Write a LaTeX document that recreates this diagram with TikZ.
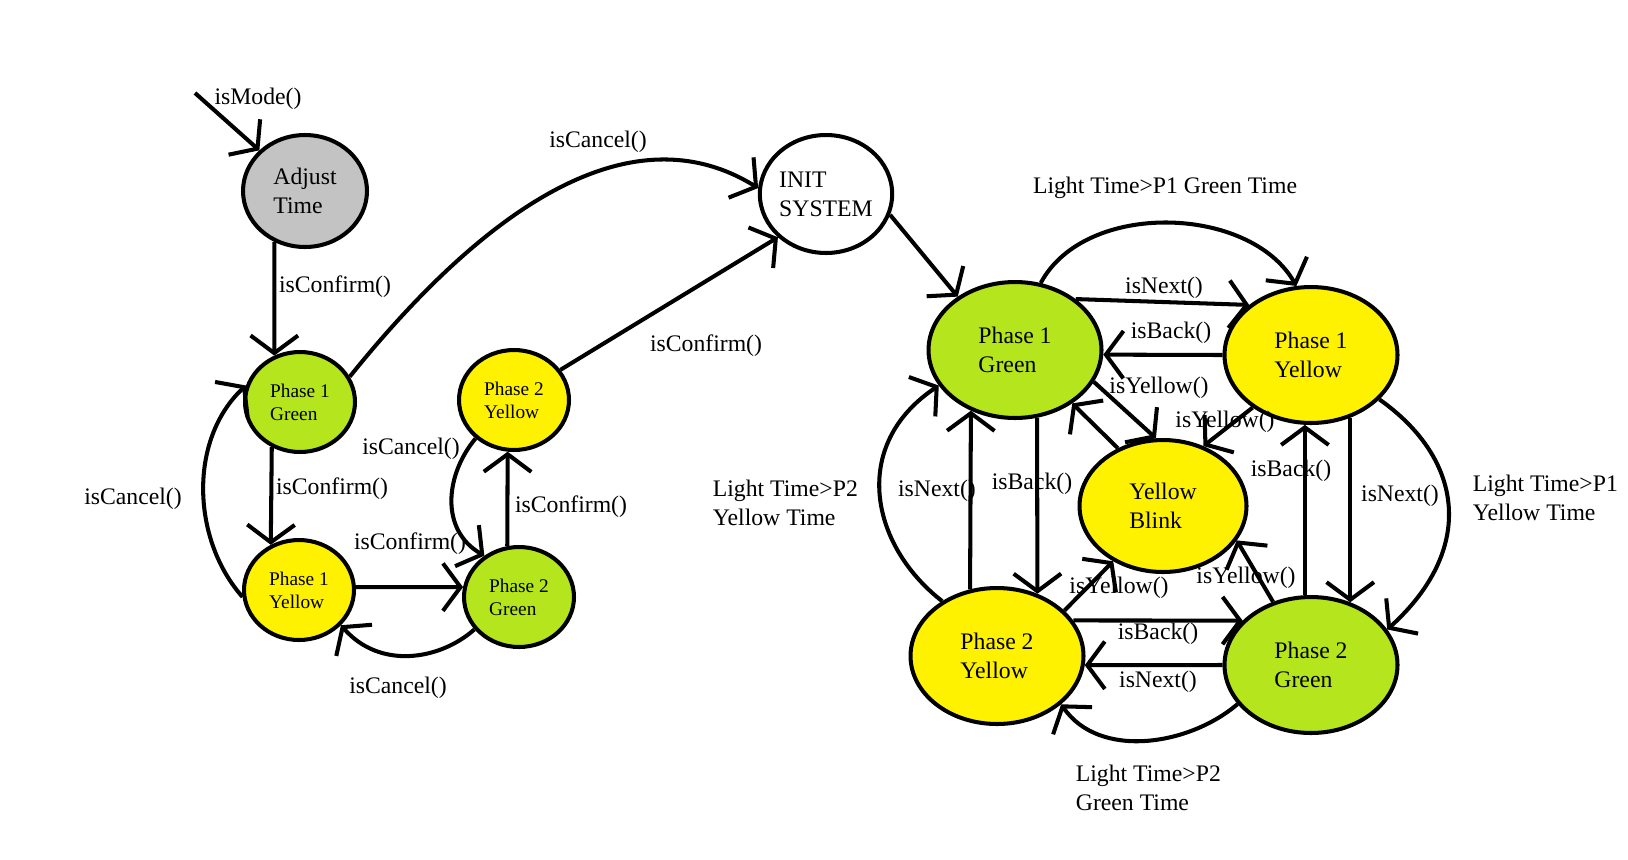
\documentclass[tikz,border=0pt]{standalone}
\usepackage{fontspec}
\setmainfont{Liberation Serif}
\usetikzlibrary{shapes.geometric,arrows.meta}
\definecolor{paintgreen}{RGB}{181,230,29}
\definecolor{paintyellow}{RGB}{255,242,0}
\definecolor{paintgray}{RGB}{195,195,195}

\begin{document}
\begin{tikzpicture}[x=0.02cm,y=-0.02cm,line width=2.3pt,
    >={Straight Barb[length=10pt,width=27pt]},
    every node/.style={font=\fontsize{13.5}{16.5}\selectfont,align=left},
    state/.style={draw,ellipse,inner sep=0pt},
    small/.style={state,minimum width=2.2cm,minimum height=2cm,font=\fontsize{11}{13}\selectfont},
    big/.style={state,minimum width=3.46cm,minimum height=2.72cm},
    grn/.style={fill=paintgreen},
    ylw/.style={fill=paintyellow}]
      \useasboundingbox (0,0) rectangle (1628,859);

      \node[state,fill=paintgray,minimum width=2.48cm,minimum height=2.24cm] (adj) at (305,191) {Adjust\\Time};
      \node[state,minimum width=2.64cm,minimum height=2.36cm] (init) at (826,194) {INIT\\SYSTEM};
      \node[small,grn] (aP1G) at (300,402) {Phase 1\\Green};
      \node[small,ylw] (aP1Y) at (299,590) {Phase 1\\Yellow};
      \node[small,ylw] (aP2Y) at (514,400) {Phase 2\\Yellow};
      \node[small,grn] (aP2G) at (519,597) {Phase 2\\Green};

      \node[big,grn] (P1G) at (1015,350) {Phase 1\\Green};
      \node[big,ylw] (P1Y) at (1311,355) {Phase 1\\Yellow};
      \node[state,ylw,minimum width=3.34cm,minimum height=2.64cm] (blink) at (1163,506) {Yellow\\Blink};
      \node[big,ylw] (P2Y) at (997,656) {Phase 2\\Yellow};
      \node[big,grn] (P2G) at (1311,665) {Phase 2\\Green};

      \coordinate (modein) at (195,93);
      \draw[->] (modein) -- (adj);
      \draw[->] (adj.-121) -- (aP1G.119);
      \draw[->] (aP1G.27) .. controls (500,190) and (640,115) .. (init.175);
      \draw[->] (aP1G.-122) -- (aP1Y.122);
      \draw[->] (aP1Y.187) .. controls (192,540) and (188,440) .. (aP1G.163);
      \draw[->] (aP1Y.3) -- (aP2G.170);
      \draw[->] (aP2G.216) .. controls (440,660) and (380,670) .. (aP1Y.-40);
      \draw[->] (aP2G.103) -- (aP2Y.-97);
      \draw[->] (aP2Y.225) .. controls (445,475) and (440,530) .. (aP2G.130);
      \draw[->] (aP2Y.33) -- (init.222);
      \draw[->] (init.-18) -- (P1G.137);

      \draw[->] (P1G.40) -- (P1Y.141);
      \draw[->] (P1Y.180) -- (P1G.-3);
      \draw[->] (P1G.69) .. controls (1085,200) and (1250,205) .. (P1Y.102);
      \draw[->] (P1Y.-33) .. controls (1465,460) and (1475,550) .. (P2G.25);
      \draw[->] (P1Y.-58) -- (P2G.58);
      \draw[->] (P2G.95) -- (P1Y.-95);
      \draw[->] (P2Y.25) -- (P2G.147);
      \draw[->] (P2G.180) -- (P2Y.-6);
      \draw[->] (P2Y.112) -- (P1G.-126);
      \draw[->] (P1G.-72) -- (P2Y.57);
      \draw[->] (P2Y.135) .. controls (870,545) and (850,445) .. (P1G.205);
      \draw[->] (P2G.208) .. controls (1190,745) and (1100,760) .. (P2Y.-37);
      \draw[->] (P1G.-22) -- (blink.96);
      \draw[->] (blink.128) -- (P1G.-43);
      \draw[->] (P1Y.222) -- (blink.56);
      \draw[->] (P2G.121) -- (blink.-25);
      \draw[->] (P2Y.34) -- (blink.228);

      \foreach \x/\y/\t [count=\i] in {258/99/isMode(), 335/287/isConfirm(), 598/142/isCancel(),
          706/346/isConfirm(), 411/449/isCancel(), 133/499/isCancel(), 332/489/isConfirm(),
          571/507/isConfirm(), 410/544/isConfirm(), 398/688/isCancel(),
          1165/188/Light Time>P1 Green Time, 1164/288/isNext(), 1171/333/isBack(),
          1159/388/isYellow(), 1225/422/isYellow(), 937/491/isNext(), 1032/484/isBack(),
          1291/471/isBack(), 1400/496/isNext(), 1119/588/isYellow(), 1246/578/isYellow(),
          1158/634/isBack(), 1158/682/isNext()}
        \node (lab\i) at (\x,\y) {\t};
      \node[anchor=west] (labP2Y) at (705,503) {Light Time>P2\\Yellow Time};
      \node[anchor=west] (labP1Y) at (1465,498) {Light Time>P1\\Yellow Time};
      \node[anchor=west] (labP2G) at (1068,788) {Light Time>P2\\Green Time};
\end{tikzpicture}
\end{document}
